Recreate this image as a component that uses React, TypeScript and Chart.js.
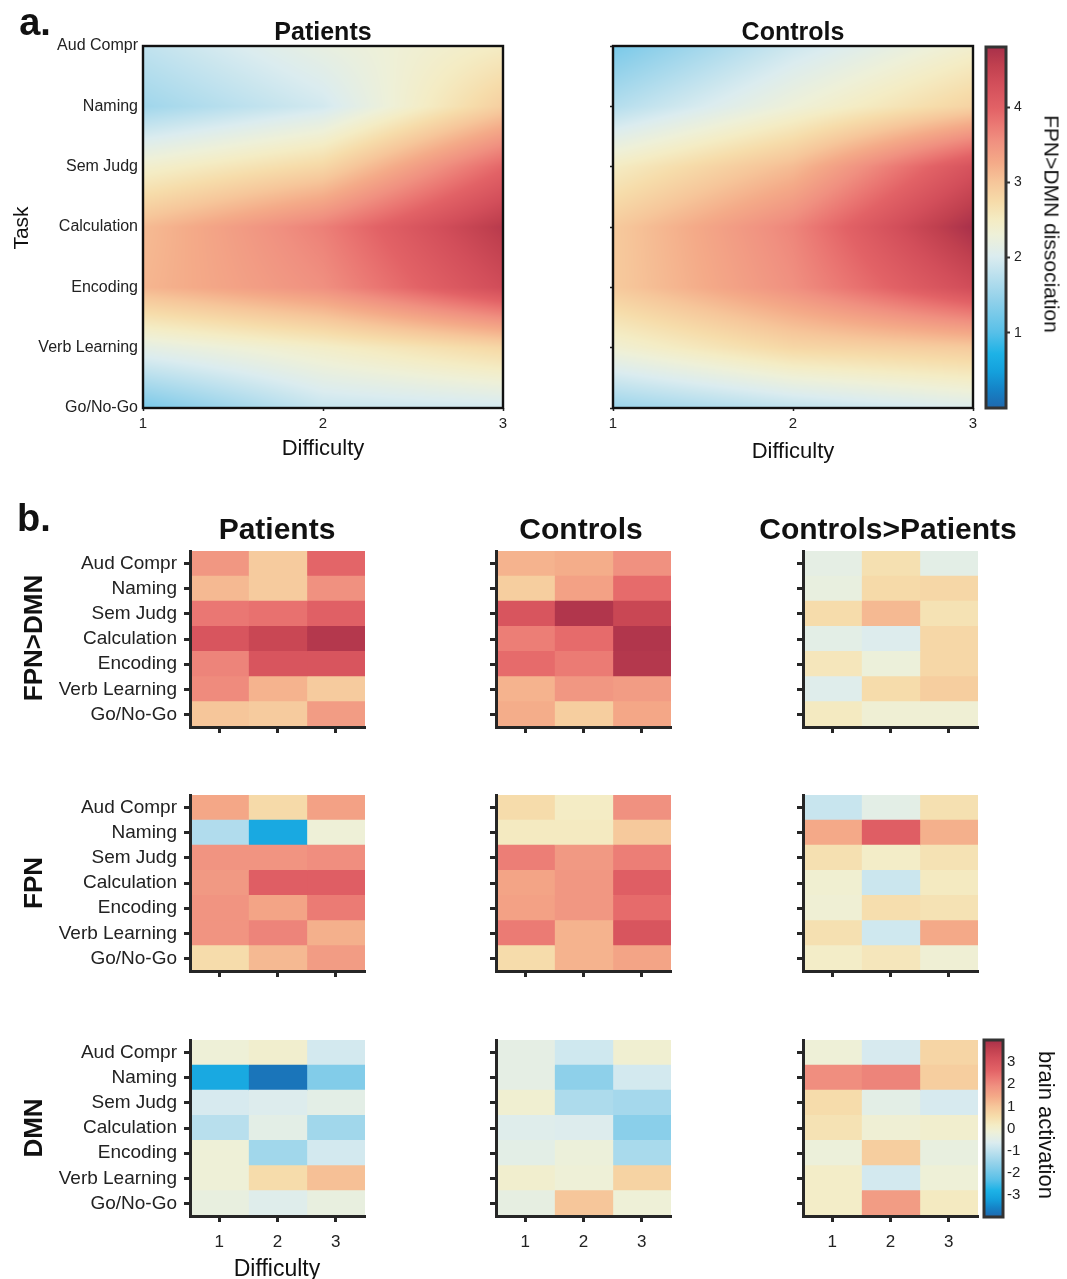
import React, { useEffect, useRef } from "react";
import { Chart, registerables } from "chart.js";

Chart.register(...registerables);

const FONT = "'Liberation Sans', Arial, Helvetica, sans-serif";
Chart.defaults.font.family = FONT;
Chart.defaults.color = "#222";

// ---------- categories / ticks ----------
const TASKS = ["Aud Compr", "Naming", "Sem Judg", "Calculation", "Encoding", "Verb Learning", "Go/No-Go"];
const DIFFICULTY = [1, 2, 3];
const A_TICKS = [1, 2, 3, 4];
const A_MIN = 0;
const A_MAX = 4.8;
const B_TICKS = [-3, -2, -1, 0, 1, 2, 3];
const B_MIN = -4;
const B_MAX = 4;

// ---------- panel a: FPN>DMN dissociation (rows = tasks, cols = difficulty 1..3) ----------
const A_PATIENTS = [
  [1.8, 2.2, 2.5],
  [1.55, 1.95, 2.9],
  [2.4, 2.8, 3.95],
  [3.1, 3.7, 4.65],
  [3.15, 3.55, 4.35],
  [2.15, 2.45, 2.8],
  [1.25, 1.85, 1.95],
];
const A_CONTROLS = [
  [1.25, 1.9, 2.4],
  [1.7, 2.3, 2.85],
  [2.5, 3.1, 4.25],
  [2.95, 3.65, 4.8],
  [2.95, 3.55, 4.35],
  [2.35, 2.8, 2.95],
  [1.5, 1.8, 2.05],
];

// ---------- panel b: brain activation (rows = tasks, cols = difficulty 1..3) ----------
const FPNDMN_PATIENTS = [
  [1.8, 0.9, 2.6],
  [1.2, 0.9, 1.9],
  [2.3, 2.4, 2.7],
  [3.0, 3.4, 3.8],
  [2.1, 3.0, 3.0],
  [2.0, 1.3, 0.9],
  [1.0, 0.9, 1.7],
];
const FPNDMN_CONTROLS = [
  [1.3, 1.4, 1.9],
  [0.85, 1.6, 2.5],
  [3.0, 3.85, 3.4],
  [2.2, 2.5, 3.85],
  [2.5, 2.25, 3.8],
  [1.3, 1.8, 1.7],
  [1.4, 0.85, 1.5],
];
const FPNDMN_DIFF = [
  [-0.4, 0.45, -0.45],
  [-0.3, 0.6, 0.65],
  [0.55, 1.2, 0.4],
  [-0.45, -0.6, 0.65],
  [0.3, -0.2, 0.65],
  [-0.55, 0.55, 0.85],
  [0.2, -0.1, -0.1],
];
const FPN_PATIENTS = [
  [1.5, 0.6, 1.6],
  [-1.2, -3.0, -0.15],
  [1.85, 1.85, 1.95],
  [1.75, 2.75, 2.75],
  [1.85, 1.55, 2.25],
  [1.85, 2.1, 1.35],
  [0.55, 1.2, 1.7],
];
const FPN_CONTROLS = [
  [0.55, 0.15, 1.9],
  [0.2, 0.2, 0.95],
  [2.2, 1.75, 2.2],
  [1.55, 1.8, 2.75],
  [1.6, 1.8, 2.5],
  [2.25, 1.3, 3.0],
  [0.55, 1.3, 1.55],
];
const FPN_DIFF = [
  [-0.9, -0.45, 0.45],
  [1.45, 2.75, 1.35],
  [0.45, 0.1, 0.4],
  [-0.05, -0.85, 0.2],
  [-0.1, 0.5, 0.4],
  [0.45, -0.8, 1.45],
  [0.1, 0.3, -0.1],
];
const DMN_PATIENTS = [
  [-0.15, 0.0, -0.75],
  [-3.0, -3.8, -1.8],
  [-0.7, -0.6, -0.45],
  [-1.1, -0.45, -1.4],
  [-0.15, -1.4, -0.75],
  [-0.15, 0.55, 1.1],
  [-0.3, -0.55, -0.3],
];
const DMN_CONTROLS = [
  [-0.4, -0.8, -0.05],
  [-0.4, -1.65, -0.75],
  [-0.05, -1.25, -1.35],
  [-0.55, -0.6, -1.7],
  [-0.45, -0.2, -1.3],
  [0.0, -0.15, 0.75],
  [-0.35, 1.0, -0.15],
];
const DMN_DIFF = [
  [-0.15, -0.7, 0.7],
  [1.95, 2.1, 0.85],
  [0.55, -0.45, -0.7],
  [0.4, -0.1, 0.0],
  [-0.2, 0.85, -0.3],
  [0.1, -0.75, -0.15],
  [0.1, 1.7, 0.2],
];

// ---------- colormap ----------
const CMAP: [number, string][] = [
  [0.0, "#1f68ae"],
  [0.05, "#1582c6"],
  [0.1, "#14a0dc"],
  [0.15, "#1db2e6"],
  [0.21, "#58c0e8"],
  [0.3, "#92d1ea"],
  [0.375, "#c0e2ee"],
  [0.42, "#dbecef"],
  [0.48, "#eef0d8"],
  [0.52, "#f4ecc4"],
  [0.57, "#f6dcaa"],
  [0.625, "#f6c69a"],
  [0.68, "#f4aa88"],
  [0.74, "#f09080"],
  [0.79, "#ea7672"],
  [0.83, "#e26266"],
  [0.9, "#d24e5a"],
  [0.95, "#c0404f"],
  [1.0, "#a8304a"],
];
function hexToRgb(h: string): [number, number, number] {
  const n = parseInt(h.slice(1), 16);
  return [(n >> 16) & 255, (n >> 8) & 255, n & 255];
}
const CMAP_RGB = CMAP.map(([f, h]) => [f, hexToRgb(h)] as [number, [number, number, number]]);
function cmapRgb(f: number): [number, number, number] {
  const t = Math.max(0, Math.min(1, f));
  for (let i = 0; i < CMAP_RGB.length - 1; i++) {
    const [f0, c0] = CMAP_RGB[i];
    const [f1, c1] = CMAP_RGB[i + 1];
    if (t <= f1) {
      const u = (t - f0) / (f1 - f0);
      return [c0[0] + (c1[0] - c0[0]) * u, c0[1] + (c1[1] - c0[1]) * u, c0[2] + (c1[2] - c0[2]) * u];
    }
  }
  return CMAP_RGB[CMAP_RGB.length - 1][1];
}
function cmapCss(f: number): string {
  const [r, g, b] = cmapRgb(f);
  return `rgb(${Math.round(r)},${Math.round(g)},${Math.round(b)})`;
}

// ---------- plugins ----------
const surfacePlugin = {
  id: "surface",
  beforeDatasetsDraw(chart: any, _args: any, opts: any) {
    const grid: number[][] = opts && opts.grid;
    if (!grid) return;
    const cols: number[] = opts.cols;
    const { left, top, right, bottom } = chart.chartArea;
    const x0 = Math.floor(left);
    const y0 = Math.floor(top);
    const w = Math.ceil(right) - x0;
    const h = Math.ceil(bottom) - y0;
    const xs = chart.scales.x;
    const ys = chart.scales.y;
    const off = document.createElement("canvas");
    off.width = w;
    off.height = h;
    const octx = off.getContext("2d")!;
    const img = octx.createImageData(w, h);
    const nr = grid.length;
    const nc = grid[0].length;
    for (let py = 0; py < h; py++) {
      let gy = ys.getValueForPixel(y0 + py + 0.5);
      gy = Math.max(0, Math.min(nr - 1, gy));
      const j0 = Math.min(Math.floor(gy), nr - 2);
      const ty = gy - j0;
      for (let px = 0; px < w; px++) {
        const xv = xs.getValueForPixel(x0 + px + 0.5);
        let gx = (xv - cols[0]) / (cols[1] - cols[0]);
        gx = Math.max(0, Math.min(nc - 1, gx));
        const i0 = Math.min(Math.floor(gx), nc - 2);
        const tx = gx - i0;
        const a = grid[j0][i0] * (1 - tx) + grid[j0][i0 + 1] * tx;
        const b = grid[j0 + 1][i0] * (1 - tx) + grid[j0 + 1][i0 + 1] * tx;
        const v = a * (1 - ty) + b * ty;
        const [r, g, bb] = cmapRgb((v - opts.vmin) / (opts.vmax - opts.vmin));
        const k = (py * w + px) * 4;
        img.data[k] = r;
        img.data[k + 1] = g;
        img.data[k + 2] = bb;
        img.data[k + 3] = 255;
      }
    }
    octx.putImageData(img, 0, 0);
    const ctx = chart.ctx;
    ctx.save();
    ctx.beginPath();
    ctx.rect(left, top, right - left, bottom - top);
    ctx.clip();
    ctx.drawImage(off, x0, y0);
    ctx.restore();
  },
};

const boxPlugin = {
  id: "box",
  afterDraw(chart: any, _args: any, opts: any) {
    if (!opts || !opts.width) return;
    const { left, top, right, bottom } = chart.chartArea;
    const ctx = chart.ctx;
    ctx.save();
    ctx.lineWidth = opts.width;
    ctx.strokeStyle = opts.color;
    ctx.strokeRect(left, top, right - left, bottom - top);
    ctx.restore();
  },
};

// ---------- chart config builders ----------
const AXIS_COLOR = "#262626";

function surfaceConfig(grid: number[][], showY: boolean, YW: number, XH: number, PT: number, PR: number): any {
  return {
    type: "scatter",
    data: {
      datasets: [
        {
          data: grid.flatMap((row, ri) => row.map((_v, ci) => ({ x: DIFFICULTY[ci], y: ri }))),
          pointRadius: 0,
          showLine: false,
        },
      ],
    },
    options: {
      responsive: false,
      animation: false,
      events: [],
      layout: { padding: { top: PT, right: PR, left: 0, bottom: 0 } },
      plugins: {
        legend: { display: false },
        tooltip: { enabled: false },
        surface: { grid, cols: DIFFICULTY, vmin: A_MIN, vmax: A_MAX },
        box: { width: 2.4, color: "#111" },
      },
      scales: {
        x: {
          type: "linear",
          min: 1,
          max: 3,
          afterBuildTicks: (s: any) => {
            s.ticks = DIFFICULTY.map((v) => ({ value: v }));
          },
          ticks: { font: { size: 15 }, color: "#222", padding: 4, autoSkip: false, maxRotation: 0 },
          grid: { drawOnChartArea: false, drawTicks: true, tickLength: 3, tickWidth: 1.5, tickColor: AXIS_COLOR },
          border: { display: false },
          afterFit: (s: any) => {
            s.height = XH;
          },
        },
        y: {
          type: "linear",
          reverse: true,
          min: 0,
          max: TASKS.length - 1,
          afterBuildTicks: (s: any) => {
            s.ticks = TASKS.map((_t, i) => ({ value: i }));
          },
          ticks: {
            display: showY,
            callback: (v: any) => TASKS[Math.round(v)],
            font: { size: 16 },
            color: "#222",
            padding: 5,
            autoSkip: false,
          },
          grid: {
            drawOnChartArea: false,
            drawTicks: !showY,
            tickLength: 3,
            tickWidth: 1.5,
            tickColor: AXIS_COLOR,
          },
          border: { display: false },
          afterFit: (s: any) => {
            s.width = YW;
          },
        },
      },
    },
    plugins: [surfacePlugin, boxPlugin],
  };
}

function colorbarConfig(
  vmin: number,
  vmax: number,
  ticks: number[],
  pad: { left: number; top: number; bottom: number },
  RW: number,
  fontSize: number,
  tickLen: number
): any {
  return {
    type: "bar",
    data: {
      labels: [""],
      datasets: [
        {
          data: [[vmin, vmax]],
          barPercentage: 1,
          categoryPercentage: 1,
          borderWidth: 0,
          backgroundColor: (c: any) => {
            const ca = c.chart.chartArea;
            if (!ca) return "#ccc";
            const g = c.chart.ctx.createLinearGradient(0, ca.bottom, 0, ca.top);
            CMAP.forEach(([f, col]) => g.addColorStop(f, col));
            return g;
          },
        },
      ],
    },
    options: {
      responsive: false,
      animation: false,
      events: [],
      layout: { padding: { left: pad.left, top: pad.top, bottom: pad.bottom, right: 0 } },
      plugins: {
        legend: { display: false },
        tooltip: { enabled: false },
        box: { width: 3, color: "#333" },
      },
      scales: {
        x: { display: false },
        y: {
          position: "right",
          min: vmin,
          max: vmax,
          afterBuildTicks: (s: any) => {
            s.ticks = ticks.map((v) => ({ value: v }));
          },
          ticks: { font: { size: fontSize }, color: "#222", padding: 4, autoSkip: false },
          grid: {
            drawOnChartArea: false,
            drawTicks: tickLen > 0,
            tickLength: tickLen,
            tickWidth: 2,
            tickColor: "#333",
          },
          border: { display: false },
          afterFit: (s: any) => {
            s.width = RW;
          },
        },
      },
    },
    plugins: [boxPlugin],
  };
}

function heatConfig(matrix: number[][], showY: boolean, showX: boolean, YW: number, XH: number, PT: number, PR: number): any {
  return {
    type: "bar",
    data: {
      labels: TASKS,
      datasets: DIFFICULTY.map((d, ci) => ({
        data: TASKS.map(() => [d - 0.5, d + 0.5]),
        backgroundColor: matrix.map((row) => cmapCss((row[ci] - B_MIN) / (B_MAX - B_MIN))),
        borderWidth: 0,
        barPercentage: 1,
        categoryPercentage: 1,
        grouped: false,
        inflateAmount: 0.5,
      })),
    },
    options: {
      indexAxis: "y",
      responsive: false,
      animation: false,
      events: [],
      layout: { padding: { top: PT, right: PR, left: 0, bottom: 0 } },
      plugins: { legend: { display: false }, tooltip: { enabled: false } },
      scales: {
        x: {
          type: "linear",
          min: 0.5,
          max: 3.5,
          afterBuildTicks: (s: any) => {
            s.ticks = DIFFICULTY.map((v) => ({ value: v }));
          },
          ticks: { display: showX, font: { size: 17 }, color: "#222", padding: 10, autoSkip: false, maxRotation: 0 },
          grid: { drawOnChartArea: false, drawTicks: true, tickLength: 6, tickWidth: 3, tickColor: AXIS_COLOR },
          border: { display: true, width: 3, color: AXIS_COLOR, z: 1 },
          afterFit: (s: any) => {
            s.height = XH;
          },
        },
        y: {
          type: "category",
          offset: true,
          ticks: { display: showY, font: { size: 19 }, color: "#222", padding: 7, autoSkip: false },
          grid: { offset: false, drawOnChartArea: false, drawTicks: true, tickLength: 6, tickWidth: 3, tickColor: AXIS_COLOR },
          border: { display: true, width: 3, color: AXIS_COLOR, z: 1 },
          afterFit: (s: any) => {
            s.width = YW;
          },
        },
      },
    },
  };
}

// ---------- components ----------
function ChartBox(props: { left: number; top: number; width: number; height: number; make: () => any }) {
  const ref = useRef<HTMLCanvasElement>(null);
  useEffect(() => {
    const chart = new Chart(ref.current as HTMLCanvasElement, props.make());
    return () => chart.destroy();
  }, []);
  return (
    <canvas
      ref={ref}
      width={props.width}
      height={props.height}
      style={{ position: "absolute", left: props.left, top: props.top, width: props.width, height: props.height }}
    />
  );
}

function Label(props: { x: number; y: number; text: string; size: number; bold?: boolean; rotate?: number }) {
  return (
    <div
      style={{
        position: "absolute",
        left: props.x,
        top: props.y,
        transform: `translate(-50%, -50%) rotate(${props.rotate || 0}deg)`,
        font: `${props.bold ? "bold " : ""}${props.size}px ${FONT}`,
        lineHeight: 1,
        whiteSpace: "nowrap",
        color: "#111",
      }}
    >
      {props.text}
    </div>
  );
}

const B_COL_LEFT = [190, 496, 803];
const B_ROW_TOP = [551, 795, 1040];
const B_W = 175;
const B_H = 176;
const B_MATRICES = [
  [FPNDMN_PATIENTS, FPNDMN_CONTROLS, FPNDMN_DIFF],
  [FPN_PATIENTS, FPN_CONTROLS, FPN_DIFF],
  [DMN_PATIENTS, DMN_CONTROLS, DMN_DIFF],
];

export default function App() {
  const heat: React.ReactNode[] = [];
  B_MATRICES.forEach((row, ri) => {
    row.forEach((m, ci) => {
      const YW = ci === 0 ? 180 : 25;
      const PT = 22;
      const PR = 8;
      const XH = ri === 2 ? 60 : 22;
      heat.push(
        <ChartBox
          key={`h${ri}${ci}`}
          left={B_COL_LEFT[ci] - YW}
          top={B_ROW_TOP[ri] - PT}
          width={YW + B_W + PR}
          height={PT + B_H + XH}
          make={() => heatConfig(m, ci === 0, ri === 2, YW, XH, PT, PR)}
        />
      );
    });
  });

  return (
    <div style={{ position: "absolute", left: 0, top: 0, width: 1067, height: 1279, background: "#fff", overflow: "hidden" }}>
      {/* panel a */}
      <ChartBox left={0} top={0} width={530} height={445} make={() => surfaceConfig(A_PATIENTS, true, 143, 37, 46, 27)} />
      <ChartBox left={560} top={0} width={440} height={445} make={() => surfaceConfig(A_CONTROLS, false, 53, 37, 46, 27)} />
      <ChartBox
        left={960}
        top={0}
        width={100}
        height={445}
        make={() => colorbarConfig(A_MIN, A_MAX, A_TICKS, { left: 26, top: 47, bottom: 37 }, 54, 14, 4)}
      />
      <Label x={35} y={22} text="a." size={38} bold />
      <Label x={323} y={31} text="Patients" size={25} bold />
      <Label x={793} y={31} text="Controls" size={25} bold />
      <Label x={20} y={228} text="Task" size={21} rotate={-90} />
      <Label x={323} y={448} text="Difficulty" size={22} />
      <Label x={793} y={451} text="Difficulty" size={22} />
      <Label x={1052} y={224} text="FPN>DMN dissociation" size={21} rotate={90} />

      {/* panel b */}
      {heat}
      <ChartBox
        left={960}
        top={1000}
        width={100}
        height={260}
        make={() => colorbarConfig(B_MIN, B_MAX, B_TICKS, { left: 24, top: 40, bottom: 43 }, 57, 15, 0)}
      />
      <Label x={34} y={518} text="b." size={38} bold />
      <Label x={277} y={529} text="Patients" size={30} bold />
      <Label x={581} y={529} text="Controls" size={30} bold />
      <Label x={888} y={529} text="Controls>Patients" size={30} bold />
      <Label x={33} y={638} text="FPN>DMN" size={26} bold rotate={-90} />
      <Label x={33} y={883} text="FPN" size={26} bold rotate={-90} />
      <Label x={33} y={1128} text="DMN" size={26} bold rotate={-90} />
      <Label x={277} y={1268} text="Difficulty" size={23} />
      <Label x={1046} y={1125} text="brain activation" size={22} rotate={90} />
    </div>
  );
}
